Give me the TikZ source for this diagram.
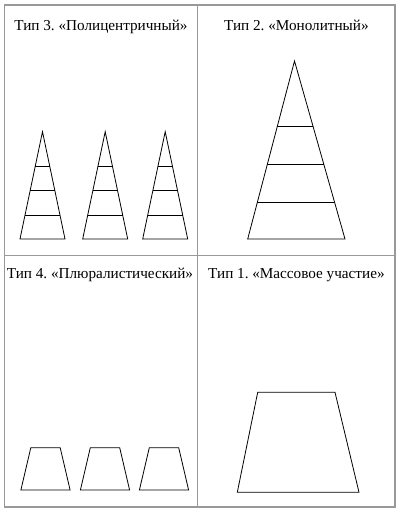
\documentclass[tikz,border=0pt]{standalone}
\usepackage{fontspec}
\setmainfont{Liberation Serif}
\usepackage{tikz}
\usetikzlibrary{calc}
\frenchspacing

\tikzset{
  panel/.style={draw=black!40, line width=1.4pt},
  figline/.style={draw=black, line width=0.8pt, line join=miter},
  title/.style={anchor=base, font=\fontsize{15.2}{18}\selectfont, inner sep=0pt}
}

\begin{document}
\begin{tikzpicture}[x=1pt, y=-1pt]
    \useasboundingbox (0, 0) rectangle (402, 511);

    % Frame and dividers
    \draw[panel] (4.5, 5) rectangle (395, 507);
    \draw[panel] (197.7, 5) -- (197.7, 507);
    \draw[panel] (4.5, 255.7) -- (395, 255.7);

    % Titles
    \node[title] (t3) at (101, 30.5) {Тип 3. «Полицентричный»};
    \node[title] (t2) at (296.4, 30.5) {Тип 2. «Монолитный»};
    \node[title] (t4) at (100, 278) {Тип 4. «Плюралистический»};
    \node[title] (t1) at (296.4, 278) {Тип 1. «Массовое участие»};

    % Type 3: three small pyramids
    \foreach \cx in {42.5, 105.2, 165.2} {
        \coordinate (top) at (\cx, 131.7);
        \coordinate (bl) at (\cx-22.5, 239);
        \coordinate (br) at (\cx+22.5, 239);
        \draw[figline] (top) -- (br) -- (bl) -- cycle;
        \foreach \t in {0.32, 0.546, 0.776}
            \draw[figline] ($(top)!\t!(bl)$) -- ($(top)!\t!(br)$);
    }

    % Type 2: one tall pyramid
    \coordinate (apex) at (294.5, 61);
    \coordinate (baseL) at (247.7, 239);
    \coordinate (baseR) at (345, 239);
    \draw[figline] (apex) -- (baseR) -- (baseL) -- cycle;
    \draw[figline] ($(apex)!0.367!(baseL)$) -- ($(apex)!0.367!(baseR)$);
    \draw[figline] ($(apex)!0.580!(baseL)$) -- ($(apex)!0.580!(baseR)$);
    \draw[figline] ($(apex)!0.796!(baseL)$) -- ($(apex)!0.796!(baseR)$);

    % Type 4: three small trapezoids
    \foreach \cx in {45.5, 105, 164} {
        \draw[figline] (\cx-14.7, 447.7) -- (\cx+14.7, 447.7)
            -- (\cx+24.6, 490) -- (\cx-24.6, 490) -- cycle;
    }

    % Type 1: one wide trapezoid
    \draw[figline] (257.7, 392.3) -- (335, 392.3) -- (359, 492.3) -- (237.3, 492.3) -- cycle;
\end{tikzpicture}
\end{document}
